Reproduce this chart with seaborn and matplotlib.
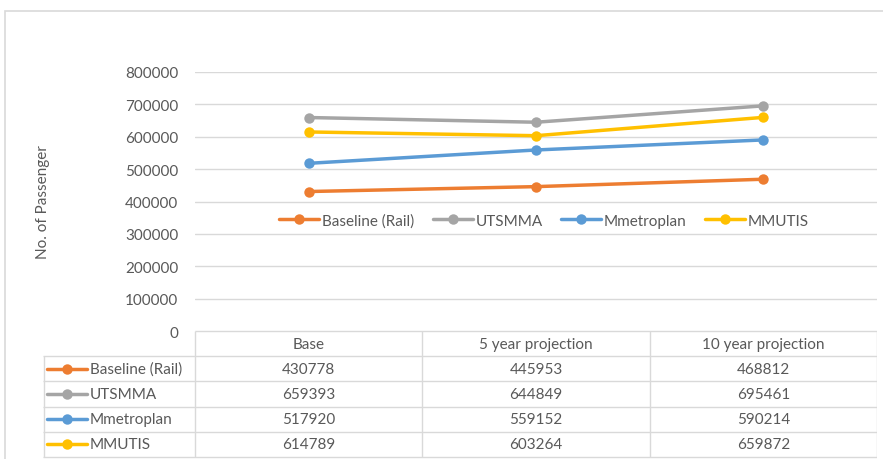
import matplotlib
matplotlib.use("Agg")
import matplotlib.pyplot as plt
import matplotlib.patches as mpatches
from matplotlib.lines import Line2D
import seaborn as sns
import pandas as pd

periods = ["Base", "5 year projection", "10 year projection"]
series_names = ["Baseline (Rail)", "UTSMMA", "Mmetroplan", "MMUTIS"]
baseline_rail = [430778, 445953, 468812]
utsmma = [659393, 644849, 695461]
mmetroplan = [517920, 559152, 590214]
mmutis = [614789, 603264, 659872]
y_ticks = [0, 100000, 200000, 300000, 400000, 500000, 600000, 700000, 800000]
colors = ["#ED7D31", "#A5A5A5", "#5B9BD5", "#FFC000"]

all_values = [baseline_rail, utsmma, mmetroplan, mmutis]
rows = []
for name, vals in zip(series_names, all_values):
    for p, v in zip(periods, vals):
        rows.append({"Scenario": name, "Period": p, "Passengers": v})
df = pd.DataFrame(rows)

sns.set_theme(style="white")
plt.rcParams["font.family"] = ["Lato", "DejaVu Sans"]
text_color = "#595959"
grid_color = "#D9D9D9"
fs = 11

W, H = 883, 460
fig = plt.figure(figsize=(W / 100, H / 100), dpi=100)

# outer chart frame
fig.patches.append(mpatches.Rectangle((5 / W, -0.1), 1.2, 1 - 12 / H + 0.1,
                                      transform=fig.transFigure, fill=False,
                                      edgecolor=grid_color, linewidth=1.2))

ax_left, ax_right = 195, 877
ax_top, ax_bot = 73, 332
ax = fig.add_axes([ax_left / W, 1 - ax_bot / H, (ax_right - ax_left) / W, (ax_bot - ax_top) / H])

palette = dict(zip(series_names, colors))
sns.lineplot(data=df, x="Period", y="Passengers", hue="Scenario", hue_order=series_names,
             palette=palette, style="Scenario", markers={n: "o" for n in series_names},
             dashes=False, sort=False, linewidth=2.5, markersize=7.5, markeredgewidth=0,
             ax=ax)

ax.set_xlim(-0.5, 2.5)
ax.set_ylim(0, 800000)
ax.set_yticks(y_ticks)
ax.set_yticklabels([str(t) for t in y_ticks], color=text_color, fontsize=fs)
ax.tick_params(axis="y", length=0, pad=12)
ax.set_xticks([])
ax.set_xlabel("")
ax.set_ylabel("No. of Passenger", color=text_color, fontsize=fs, labelpad=54)
for s in ax.spines.values():
    s.set_visible(False)
ax.yaxis.grid(True, color=grid_color, linewidth=1)
ax.set_axisbelow(True)

handles, labels = ax.get_legend_handles_labels()
ax.legend(handles, labels, ncol=4, loc="center", bbox_to_anchor=(0.512, 0.426),
          frameon=True, facecolor="white", edgecolor="none", framealpha=1,
          fontsize=fs, labelcolor=text_color, handlelength=2.6, handletextpad=0.2,
          columnspacing=1.2, borderpad=0.35)

# data table
tab_left, tab_right = 43, 877
tab_top, tab_bot = 332, 460
unit = (ax_right - ax_left) / 3.0
x0 = -0.5 - (ax_left - tab_left) / unit
row_h = 25.2
tax = fig.add_axes([tab_left / W, 0, (tab_right - tab_left) / W, (tab_bot - tab_top) / H])
tax.set_xlim(x0, 2.5)
tax.set_ylim((tab_bot - tab_top) / row_h, 0)
tax.axis("off")

n_rows = len(series_names)
tax.hlines(0, -0.5, 2.5, color=grid_color, lw=1)
for r in range(1, n_rows + 2):
    tax.hlines(r, x0, 2.5, color=grid_color, lw=1)
tax.vlines(x0 + 0.004, 1, n_rows + 1, color=grid_color, lw=1)
for xv in [-0.5, 0.5, 1.5, 2.5]:
    tax.vlines(xv, 0, n_rows + 1, color=grid_color, lw=1)

for i, p in enumerate(periods):
    tax.text(i, 0.5, p, ha="center", va="center", color=text_color, fontsize=fs)
for r, (name, vals, c) in enumerate(zip(series_names, all_values, colors)):
    yc = r + 1.5
    kx0 = x0 + 4 / unit
    kx1 = x0 + 44 / unit
    tax.add_line(Line2D([kx0, kx1], [yc, yc], color=c, lw=2.5))
    tax.plot([(kx0 + kx1) / 2], [yc], "o", color=c, markersize=7.5, markeredgewidth=0)
    tax.text(x0 + 47 / unit, yc, name, ha="left", va="center", color=text_color, fontsize=fs)
    for i, v in enumerate(vals):
        tax.text(i, yc, str(v), ha="center", va="center", color=text_color, fontsize=fs)

fig.savefig("out.png", dpi=100)
